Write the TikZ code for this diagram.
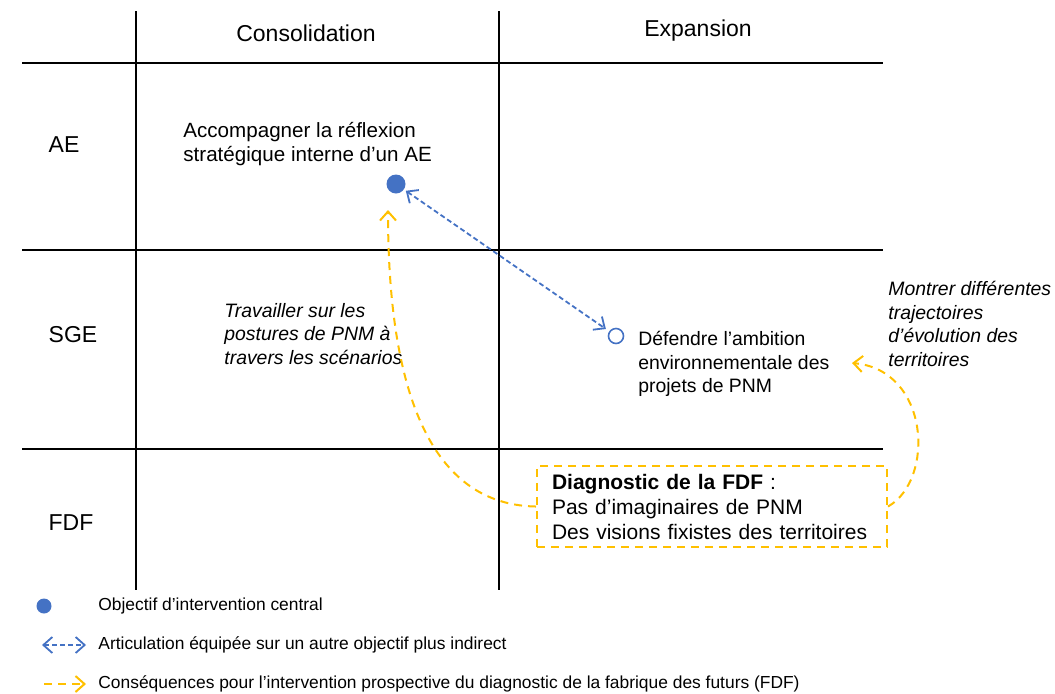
\documentclass[tikz,border=0pt]{standalone}
\usepackage{fontspec}
\setmainfont{Liberation Sans}
\usetikzlibrary{arrows.meta,positioning,calc}
\definecolor{objblue}{HTML}{4472C4}
\definecolor{fdfyellow}{HTML}{FFC000}
\tikzset{
hdr/.style = {font=\fontsize{11.5}{13}\selectfont, inner sep=0pt},
txt/.style = {font=\fontsize{9.7}{11.8}\selectfont, align=left, inner sep=0pt, anchor=west},
itxt/.style = {txt, font=\fontsize{9.7}{11.8}\selectfont\itshape},
leg/.style = {font=\fontsize{8.7}{10}\selectfont, inner sep=0pt, anchor=west},
grid/.style = {draw=black, line width=1pt},
dot/.style = {circle, fill=objblue, inner sep=0pt, minimum size=9.5pt},
odot/.style = {circle, draw=objblue, line width=0.8pt, inner sep=0pt, minimum size=7.5pt},
diagbox/.style = {draw=fdfyellow, line width=1pt, dash pattern=on 4pt off 3pt, align=left,
  font=\fontsize{10.5}{12.5}\selectfont, text width=160pt, inner xsep=7.5pt, inner ysep=3.9pt},
artic/.style = {draw=objblue, line width=0.9pt, dash pattern=on 2.5pt off 1.5pt, {Straight Barb[length=4.5pt,width=8pt]}-{Straight Barb[length=4.5pt,width=8pt]}},
conseq/.style = {draw=fdfyellow, line width=1pt, dash pattern=on 4pt off 3pt, -{Straight Barb[length=4.5pt,width=8pt]}}
}

\begin{document}
\begin{tikzpicture}[x=0.5pt, y=-0.5pt]
  \useasboundingbox (0,0) rectangle (1055,693);

  % grid
  \draw [grid] (135.5,11) -- (135.5,590);
  \draw [grid] (499,11) -- (499,590);
  \draw [grid] (22,63) -- (883,63);
  \draw [grid] (22,250) -- (883,250);
  \draw [grid] (22,449) -- (883,449);

  \node [hdr]  (cons)   at (306,33)  {Consolidation};
  \node [hdr]  (expa)   at (698,31)  {Expansion};
  \node [hdr]  (rowae)  at (64,145)  {AE};
  \node [hdr]  (rowsge) at (73,335)  {SGE};
  \node [hdr]  (rowfdf) at (71,523)  {FDF};

  \node [txt, font=\fontsize{10.3}{11.6}\selectfont] (accomp) at (183,144) {Accompagner la réflexion\\stratégique interne d’un AE};
  \node [dot]  (central) at (396,184) {};
  \node [odot] (indir)   at (616,336) {};
  \node [txt]  (defendre) at (638,364) {Défendre l’ambition\\environnementale des\\projets de PNM};
  \node [itxt] (travail) at (224,334) {Travailler sur les\\postures de PNM à\\travers les scénarios};
  \node [itxt] (montrer) at (888,324) {Montrer différentes\\trajectoires\\d’évolution des\\territoires};
  \node [diagbox, anchor=north west] (diag) at (536,465)
    {\textbf{Diagnostic de la FDF} :\\Pas d’imaginaires de PNM\\Des visions fixistes des territoires};

  \coordinate (tipa) at (388,210);
  \coordinate (tipb) at (852,363);

  \draw [artic, shorten <=1pt, shorten >=2pt] (central) -- (indir);
  \draw [conseq] (diag.west) .. controls (445,505) and (388,420) .. (tipa);
  \draw [conseq] (diag.east) .. controls (935,480) and (930,370) .. (tipb);

  % legend
  \node [dot, minimum size=7.5pt] (legdot) at (44,606) {};
  \node [leg] (legdottxt) at (98,606) {Objectif d’intervention central};
  \coordinate (lega1) at (42,645);
  \coordinate (lega2) at (86,645);
  \draw [artic] (lega1) -- (lega2);
  \node [leg] (legatxt) at (98,645) {Articulation équipée sur un autre objectif plus indirect};
  \coordinate (legb1) at (44,684);
  \coordinate (legb2) at (86,684);
  \draw [conseq] (legb1) -- (legb2);
  \node [leg] (legbtxt) at (98,684) {Conséquences pour l’intervention prospective du diagnostic de la fabrique des futurs (FDF)};
\end{tikzpicture}
\end{document}
